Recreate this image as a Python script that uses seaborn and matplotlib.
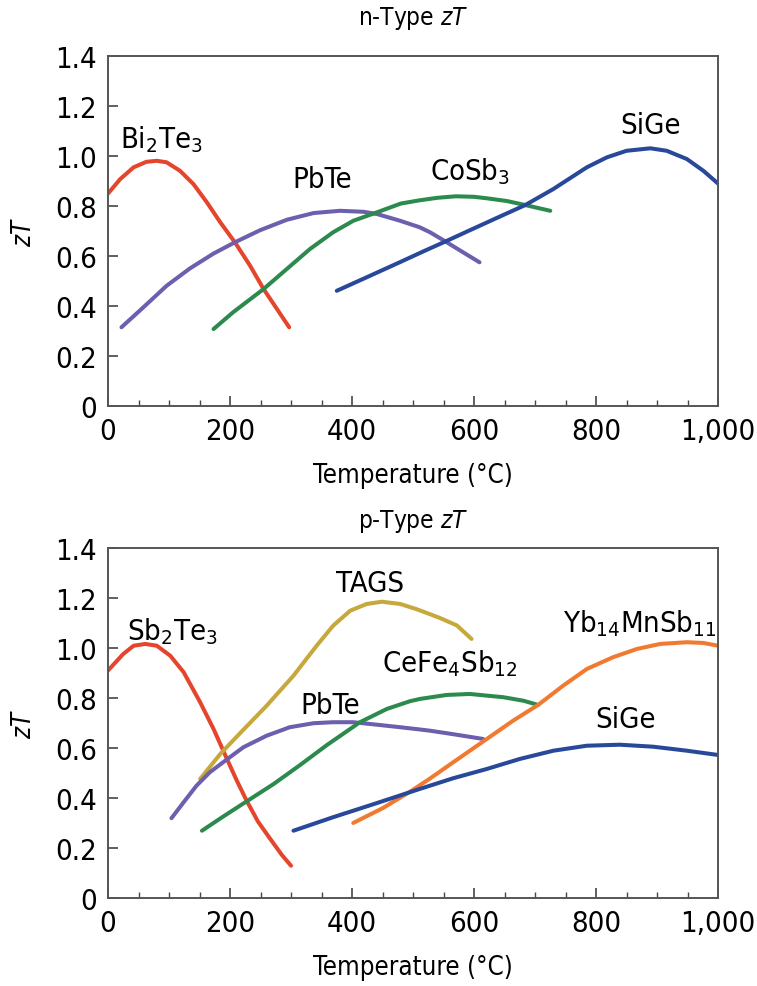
import matplotlib
matplotlib.use("Agg")
import matplotlib.pyplot as plt
import seaborn as sns
from matplotlib import font_manager
from matplotlib.ticker import FuncFormatter, MultipleLocator

# n-type curves (temperature in C, zT)
bi2te3_t = [0, 20, 42, 63, 80, 96, 118, 140, 162, 184, 208, 233, 255, 277, 297]
bi2te3_zt = [0.85, 0.908, 0.955, 0.977, 0.981, 0.975, 0.941, 0.888, 0.815, 0.735,
             0.655, 0.561, 0.468, 0.388, 0.315]
pbte_n_t = [22, 58, 96, 134, 173, 208, 249, 293, 337, 380, 419, 441, 479, 511, 528, 552, 580, 609]
pbte_n_zt = [0.315, 0.395, 0.481, 0.55, 0.61, 0.655, 0.703, 0.745, 0.772, 0.781, 0.777,
             0.768, 0.741, 0.715, 0.695, 0.66, 0.618, 0.575]
cosb3_t = [173, 205, 255, 293, 331, 369, 402, 441, 480, 511, 540, 570, 600, 621, 654, 684, 725]
cosb3_zt = [0.308, 0.375, 0.468, 0.548, 0.628, 0.695, 0.741, 0.775, 0.81, 0.823, 0.833,
            0.839, 0.837, 0.831, 0.82, 0.804, 0.781]
sige_n_t = [375, 424, 479, 520, 552, 593, 637, 684, 730, 785, 818, 850, 889, 916, 949, 976, 1000]
sige_n_zt = [0.461, 0.515, 0.576, 0.622, 0.657, 0.703, 0.752, 0.804, 0.868, 0.955, 0.995,
             1.021, 1.031, 1.021, 0.988, 0.941, 0.89]

# p-type curves
sb2te3_t = [0, 25, 42, 61, 80, 102, 124, 151, 173, 192, 211, 227, 246, 266, 285, 300]
sb2te3_zt = [0.91, 0.976, 1.009, 1.016, 1.009, 0.969, 0.903, 0.783, 0.676, 0.572,
             0.47, 0.39, 0.305, 0.236, 0.172, 0.129]
tags_t = [151, 184, 216, 260, 304, 342, 369, 397, 424, 449, 479, 506, 528, 544, 572, 596]
tags_zt = [0.476, 0.576, 0.658, 0.769, 0.889, 1.009, 1.089, 1.149, 1.176, 1.185, 1.176,
           1.155, 1.135, 1.12, 1.09, 1.036]
pbte_p_t = [104, 124, 145, 167, 192, 222, 260, 298, 337, 369, 402, 441, 479, 511, 528, 566, 615]
pbte_p_zt = [0.319, 0.383, 0.449, 0.503, 0.549, 0.603, 0.649, 0.683, 0.699, 0.703, 0.703,
             0.693, 0.683, 0.674, 0.669, 0.655, 0.636]
cefe_t = [154, 189, 227, 271, 315, 359, 413, 457, 495, 511, 555, 593, 648, 681, 705]
cefe_zt = [0.269, 0.326, 0.386, 0.455, 0.532, 0.612, 0.703, 0.756, 0.787, 0.796, 0.812,
           0.816, 0.803, 0.789, 0.772]
yb_t = [402, 451, 495, 528, 566, 621, 664, 705, 746, 785, 828, 867, 905, 949, 976, 1000]
yb_zt = [0.30, 0.36, 0.425, 0.478, 0.543, 0.636, 0.709, 0.772, 0.849, 0.916, 0.963,
         0.996, 1.016, 1.023, 1.02, 1.009]
sige_p_t = [304, 369, 435, 511, 566, 621, 675, 730, 785, 839, 894, 949, 1000]
sige_p_zt = [0.269, 0.323, 0.375, 0.436, 0.479, 0.516, 0.556, 0.589, 0.609, 0.613, 0.605,
             0.589, 0.572]

RED = "#e5452c"
PURPLE = "#6b5fae"
GREEN = "#2d8a4e"
BLUE = "#28489a"
GOLD = "#c7a83c"
ORANGE = "#f07a30"


def pick_narrow_font():
    # look for any narrow/condensed regular face among installed fonts
    for key in ("LiberationSansNarrow-Regular", "DejaVuSansCondensed.", "NotoSans-Condensed.",
                "Condensed-Regular", "Narrow-Regular"):
        for f in font_manager.fontManager.ttflist:
            if key in f.fname:
                return f.name, f.stretch
    return None, None


sns.set_style("ticks")
FONT, STRETCH = pick_narrow_font()
k = 1.0
if FONT is None:
    FONT, STRETCH, k = "Liberation Sans", "normal", 0.9
plt.rcParams["font.family"] = [FONT, "DejaVu Sans"]
plt.rcParams["font.stretch"] = STRETCH
plt.rcParams["mathtext.fontset"] = "custom"
plt.rcParams["mathtext.rm"] = f"{FONT}:stretch={STRETCH}"
plt.rcParams["mathtext.it"] = f"{FONT}:italic:stretch={STRETCH}"

fig = plt.figure(figsize=(7.57, 9.87), dpi=100)
ax_n = fig.add_axes([0.1427, 0.5876, 0.8058, 0.3546])
ax_p = fig.add_axes([0.1427, 0.0892, 0.8058, 0.3546])

n_curves = [
    (bi2te3_t, bi2te3_zt, RED),
    (pbte_n_t, pbte_n_zt, PURPLE),
    (cosb3_t, cosb3_zt, GREEN),
    (sige_n_t, sige_n_zt, BLUE),
]
p_curves = [
    (sb2te3_t, sb2te3_zt, RED),
    (tags_t, tags_zt, GOLD),
    (pbte_p_t, pbte_p_zt, PURPLE),
    (cefe_t, cefe_zt, GREEN),
    (yb_t, yb_zt, ORANGE),
    (sige_p_t, sige_p_zt, BLUE),
]

n_labels = [
    ("Bi$_2$Te$_3$", 87, 1.07),
    ("PbTe", 351, 0.91),
    ("CoSb$_3$", 593, 0.94),
    ("SiGe", 889, 1.125),
]
p_labels = [
    ("Sb$_2$Te$_3$", 105, 1.07),
    ("TAGS", 430, 1.26),
    ("CeFe$_4$Sb$_{12}$", 560, 0.94),
    ("PbTe", 364, 0.77),
    ("Yb$_{14}$MnSb$_{11}$", 872, 1.10),
    ("SiGe", 848, 0.715),
]


def style_axes(ax, title, title_pad):
    ax.set_xlim(0, 1000)
    ax.set_ylim(0, 1.4)
    ax.xaxis.set_major_locator(MultipleLocator(200))
    ax.xaxis.set_minor_locator(MultipleLocator(50))
    ax.yaxis.set_major_locator(MultipleLocator(0.2))
    ax.xaxis.set_major_formatter(FuncFormatter(lambda v, p: f"{int(round(v)):,}"))
    ax.yaxis.set_major_formatter(FuncFormatter(lambda v, p: "0" if abs(v) < 1e-9 else f"{v:.1f}"))
    ax.tick_params(axis="both", which="major", direction="in", length=7, width=1.2,
                   labelsize=21 * k, pad=8, color="#444444", labelcolor="black")
    ax.tick_params(axis="x", which="minor", direction="in", length=4, width=1.0, color="#444444")
    for s in ax.spines.values():
        s.set_visible(True)
        s.set_linewidth(1.4)
        s.set_color("#555555")
    ax.set_xlabel("Temperature (°C)", fontsize=18.5 * k, labelpad=12, color="black")
    ax.set_ylabel("$zT$", fontsize=18.5 * k, labelpad=13, color="black")
    ax.set_title(title, fontsize=17.5 * k, pad=title_pad, color="black")


for ax, curves, labels, title, tpad in [
    (ax_n, n_curves, n_labels, "n-Type $zT$", 23),
    (ax_p, p_curves, p_labels, "p-Type $zT$", 15),
]:
    for t, zt, c in curves:
        sns.lineplot(x=t, y=zt, ax=ax, color=c, linewidth=2.9, sort=False,
                     solid_capstyle="round", solid_joinstyle="round")
    for text, x, y in labels:
        ax.text(x, y, text, fontsize=21 * k, ha="center", va="center", color="black")
    style_axes(ax, title, tpad)

fig.savefig("out.png", dpi=100)
